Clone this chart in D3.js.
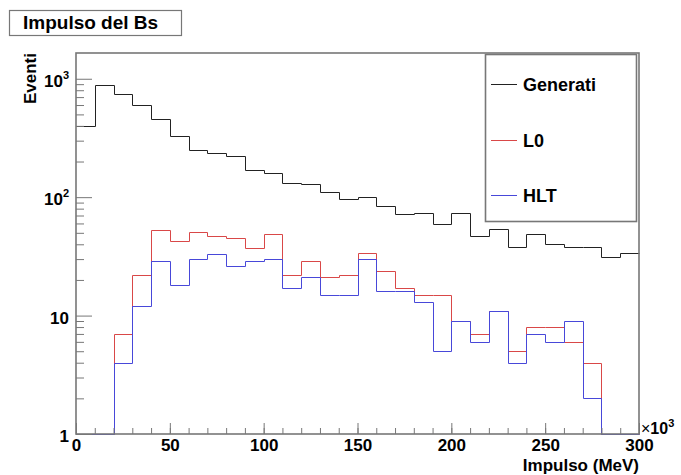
<!DOCTYPE html>
<html>
<head>
<meta charset="utf-8">
<script src="https://cdn.jsdelivr.net/npm/d3@7"></script>
<style>
  body { margin: 0; background: #fff; }
  text { font-family: "Liberation Sans", Arial, Helvetica, sans-serif; font-weight: bold; fill: #000; }
</style>
</head>
<body>
<div id="chart"></div>
<script>
// bin lower edges in units of 10^3 MeV, 30 bins of width 10
var binEdges = d3.range(0, 300, 10);
var generati = [398, 890, 750, 598, 459, 330, 250, 235, 221, 170, 160, 131, 129, 111, 96, 100, 84, 72, 73, 59, 74, 47, 54, 38, 49, 40, 38, 38, 31, 34];
var l0 = [0, 0, 7, 22, 53, 43, 51, 47, 45, 37, 49, 22, 29, 21, 22, 34, 24, 17, 15, 15, 9, 7, 11, 5, 8, 8, 6, 4, 0, 0];
var hlt = [0, 0, 4, 12, 29, 18, 30, 33, 26, 29, 30, 17, 21, 15, 15, 30, 16, 16, 13, 5, 9, 6, 11, 4, 7, 6, 9, 2, 0, 0];
var seriesNames = ['Generati', 'L0', 'HLT'];
var seriesColors = ['#222222', '#d94848', '#4848d9'];
var xMajor = [0, 50, 100, 150, 200, 250, 300];
var yMajor = [1, 10, 100, 1000];

var W = 681, H = 475;
var margin = {top: 53, bottom: 41, left: 76, right: 42};
var width = W - margin.left - margin.right;
var height = H - margin.top - margin.bottom;

var svg = d3.select('#chart').append('svg')
  .attr('width', W)
  .attr('height', H);

var x = d3.scaleLinear().domain([0, 300]).range([margin.left, margin.left + width]);
var y = d3.scaleLog().domain([1, 1650]).range([margin.top + height, margin.top]);

// histogram outlines
var line = d3.line()
  .x(function(d) { return Math.round(x(d.x)) + 0.5; })
  .y(function(d) { return Math.round(y(Math.max(d.v, 1))) + 0.5; })
  .curve(d3.curveStepAfter);

[generati, l0, hlt].forEach(function(vals, k) {
  var pts = binEdges.map(function(e, i) { return {x: e, v: vals[i]}; });
  pts.push({x: 300, v: vals[vals.length - 1]});
  svg.append('path')
    .attr('d', line(pts))
    .attr('fill', 'none')
    .attr('stroke', seriesColors[k])
    .attr('stroke-width', 1);
});

// frame
svg.append('rect')
  .attr('x', margin.left)
  .attr('y', margin.top)
  .attr('width', width)
  .attr('height', height)
  .attr('fill', 'none')
  .attr('stroke', '#777')
  .attr('stroke-width', 1.6);

// x axis: ticks point into the frame
var xAxis = svg.append('g')
  .attr('transform', 'translate(0,' + (margin.top + height) + ')')
  .call(d3.axisBottom(x).tickValues(d3.range(0, 301, 10)).tickSize(-6).tickFormat(''));
xAxis.select('.domain').remove();
xAxis.selectAll('line').attr('stroke', '#777');

var xAxisMaj = svg.append('g')
  .attr('transform', 'translate(0,' + (margin.top + height) + ')')
  .call(d3.axisBottom(x).tickValues(xMajor).tickSize(-11).tickPadding(6).tickFormat(d3.format('d')));
xAxisMaj.select('.domain').remove();
xAxisMaj.selectAll('line').attr('stroke', '#777');
xAxisMaj.selectAll('text')
  .attr('dy', null)
  .attr('y', 17)
  .style('font-size', '17px')
  .style('font-family', '"Liberation Sans", Arial, sans-serif')
  .style('font-weight', 'bold');

// y axis, log
var yMinor = [];
[1, 10, 100, 1000].forEach(function(dec) {
  for (var m = 2; m <= 9; m++) if (dec * m <= 1650) yMinor.push(dec * m);
});
var yAxis = svg.append('g')
  .attr('transform', 'translate(' + margin.left + ',0)')
  .call(d3.axisLeft(y).tickValues(yMinor).tickSize(-8).tickFormat(''));
yAxis.select('.domain').remove();
yAxis.selectAll('line').attr('stroke', '#777');

var yAxisMaj = svg.append('g')
  .attr('transform', 'translate(' + margin.left + ',0)')
  .call(d3.axisLeft(y).tickValues(yMajor).tickSize(-16).tickFormat(''));
yAxisMaj.select('.domain').remove();
yAxisMaj.selectAll('line').attr('stroke', '#777');

yMajor.forEach(function(v) {
  var t = svg.append('text')
    .attr('x', 69)
    .attr('y', y(v) + 8)
    .attr('text-anchor', 'end')
    .style('font-size', '17px');
  if (v < 100) {
    t.text(String(v));
  } else {
    t.append('tspan').text('10');
    t.append('tspan').attr('dy', -8).style('font-size', '11px').text(String(Math.round(Math.log10(v))));
  }
});

// x10^3 multiplier
var mult = svg.append('text')
  .attr('x', 641)
  .attr('y', 434)
  .style('font-size', '16px');
mult.append('tspan').style('font-weight', 'normal').text('\u00d7');
mult.append('tspan').text('10');
mult.append('tspan').attr('dy', -7).style('font-size', '11px').text('3');

// axis titles
svg.append('text')
  .attr('x', margin.left + width)
  .attr('y', 471)
  .attr('text-anchor', 'end')
  .style('font-size', '17px')
  .text('Impulso (MeV)');

svg.append('text')
  .attr('transform', 'translate(36,' + margin.top + ') rotate(-90)')
  .attr('text-anchor', 'end')
  .style('font-size', '17px')
  .text('Eventi');

// title box
svg.append('rect')
  .attr('x', 9.5).attr('y', 10.5)
  .attr('width', 172).attr('height', 25)
  .attr('fill', '#fff')
  .attr('stroke', '#777')
  .attr('stroke-width', 1.2);
svg.append('text')
  .attr('x', 23)
  .attr('y', 29)
  .style('font-size', '19px')
  .text('Impulso del Bs');

// legend
var legend = svg.append('g');
legend.append('rect')
  .attr('x', 485.5).attr('y', 54.5)
  .attr('width', 151).attr('height', 167)
  .attr('fill', '#fff')
  .attr('stroke', '#777')
  .attr('stroke-width', 1.6);
var legendY = [84, 140, 195];
seriesNames.forEach(function(name, i) {
  legend.append('line')
    .attr('x1', 491).attr('x2', 517)
    .attr('y1', legendY[i] + 0.5).attr('y2', legendY[i] + 0.5)
    .attr('stroke', seriesColors[i]);
  legend.append('text')
    .attr('x', 523)
    .attr('y', legendY[i] + 7)
    .style('font-size', '18px')
    .text(name);
});
</script>
</body>
</html>
